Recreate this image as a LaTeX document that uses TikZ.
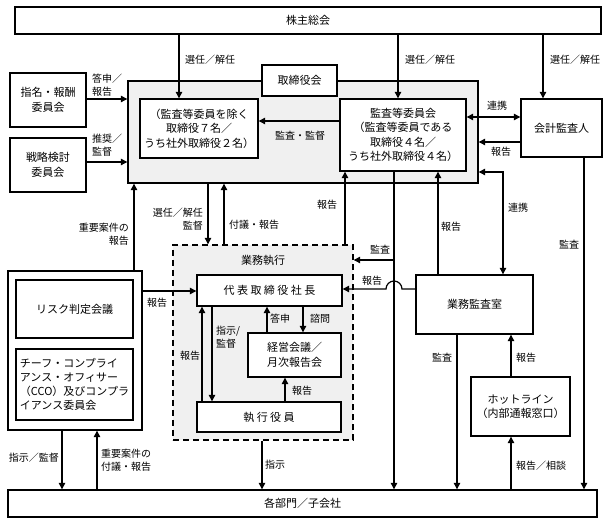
\documentclass[tikz,border=0pt]{standalone}
\usepackage{fontspec}
\setmainfont{Noto Sans CJK JP}
\usetikzlibrary{arrows.meta}
\begin{document}
\begin{tikzpicture}[
    x=1pt, y=-1pt,
    every node/.style={inner sep=0pt},
    box/.style={draw, line width=1.4pt, fill=white, align=center,
      font=\fontsize{11}{14.5}\selectfont},
    wide/.style={font=\fontsize{11}{14.5}\selectfont\addfontfeatures{LetterSpace=22}},
    grp/.style={draw, line width=1.4pt, fill=gray!12},
    lbl/.style={font=\fontsize{10}{12.5}\selectfont},
    arr/.style={line width=1.2pt, -{Triangle[length=6.5pt,width=6.5pt]}},
    dbl/.style={line width=1.2pt, {Triangle[length=6.5pt,width=6.5pt]}-{Triangle[length=6.5pt,width=6.5pt]}}
  ]
  \useasboundingbox (0,0) rectangle (611,526);
  % boxes
  \node[box, minimum width=586pt, minimum height=27pt] (gm) at (308,20.5) {株主総会};
  \node[grp, minimum width=350pt, minimum height=102pt] (board) at (303,132) {};
  \node[box, minimum width=75pt, minimum height=31pt] (boardlbl) at (299.5,80.5) {取締役会};
  \node[box, minimum width=118pt, minimum height=59pt] (dir) at (199,128.5)
    {（監査等委員を除く\\取締役７名／\\うち社外取締役２名）};
  \node[box, minimum width=126pt, minimum height=72pt] (ac) at (403,135)
    {監査等委員会\\（監査等委員である\\取締役４名／\\うち社外取締役４名）};
  \node[box, minimum width=81pt, minimum height=58pt] (auditor) at (561.5,128) {会計監査人};
  \node[box, minimum width=76pt, minimum height=54pt] (nom) at (48,100) {指名・報酬\\委員会};
  \node[box, minimum width=76pt, minimum height=54pt] (strat) at (48,165) {戦略検討\\委員会};
  \node[grp, dashed, dash pattern=on 6pt off 4pt, minimum width=180pt, minimum height=195pt] (exec) at (263,342.5) {};
  \node[font=\fontsize{11}{14.5}\selectfont] (execlbl) at (263,260) {業務執行};
  \node[box, wide, minimum width=145pt, minimum height=31pt] (ceo) at (269.5,290.5) {代表取締役社長};
  \node[box, minimum width=93pt, minimum height=44pt] (mtg) at (294.5,355) {経営会議／\\月次報告会};
  \node[box, wide, minimum width=144pt, minimum height=30pt] (officers) at (269,417) {執行役員};
  \node[box, minimum width=134pt, minimum height=159pt] (risk) at (75,350.5) {};
  \node[box, minimum width=117pt, minimum height=58pt] (riskmtg) at (74.5,309) {リスク判定会議};
  \node[box, minimum width=117pt, minimum height=71pt] (cco) at (74.5,384.5) {};
  \node[font=\fontsize{11}{14}\selectfont, align=left] (ccotxt) at (cco.center)
    {チーフ・コンプライ\\アンス・オフィサー\\（CCO）及びコンプラ\\イアンス委員会};
  \node[box, minimum width=117pt, minimum height=59pt] (ia) at (474.5,304.5) {業務監査室};
  \node[box, minimum width=99pt, minimum height=59pt] (hot) at (520.5,406.5) {ホットライン\\（内部通報窓口）};
  \node[box, minimum width=589pt, minimum height=27pt] (dept) at (302.5,503.5) {各部門／子会社};
  % connectors
  \draw[arr] (gm.south -| 179,0) -- (dir.north -| 179,0);
  \draw[arr] (gm.south -| 398,0) -- (ac.north -| 398,0);
  \draw[arr] (gm.south -| 543,0) -- (auditor.north -| 543,0);
  \draw[arr] (nom.east |- 0,99) -- (board.west |- 0,99);
  \draw[arr] (strat.east |- 0,162) -- (board.west |- 0,162);
  \draw[arr] (ac.west |- 0,121) -- (dir.east |- 0,121);
  \draw[dbl] (ac.east |- 0,117) -- (auditor.west |- 0,117);
  \draw[arr] (auditor.west |- 0,142) -- (board.east |- 0,142);
  \draw[dbl] (board.east |- 0,172) -| (ia.north -| 503,0);
  \draw[arr] (auditor.south -| 584,0) -- (dept.north -| 584,0);
  \draw[arr] (exec.north -| 345,0) -- (ac.south -| 345,0);
  \draw[arr] (ac.south -| 394,0) -- (dept.north -| 394,0);
  \coordinate (brk) at (394,260);
  \draw[arr] (brk) -- (exec.east |- brk);
  \draw[arr] (ia.north -| 438,0) -- (ac.south -| 438,0);
  \draw[arr] (ia.west |- 0,289) -- (402,289) arc[start angle=0, end angle=180, radius=8pt]
    -- (ceo.east |- 0,289);
  \draw[arr] (ia.south -| 457,0) -- (dept.north -| 457,0);
  \draw[arr] (hot.north -| 511,0) -- (ia.south -| 511,0);
  \draw[arr] (dept.north -| 511,0) -- (hot.south -| 511,0);
  \draw[arr] (board.south -| 208,0) -- (exec.north -| 208,0);
  \draw[arr] (exec.north -| 224,0) -- (board.south -| 224,0);
  \draw[arr] (risk.north -| 134,0) -- (board.south -| 134,0);
  \draw[arr] (risk.east |- 0,291) -- (ceo.west |- 0,291);
  \draw[arr] (officers.north -| 202,0) -- (ceo.south -| 202,0);
  \draw[arr] (ceo.south -| 212,0) -- (officers.north -| 212,0);
  \draw[arr] (mtg.north -| 267,0) -- (ceo.south -| 267,0);
  \draw[arr] (ceo.south -| 303,0) -- (mtg.north -| 303,0);
  \draw[arr] (officers.north -| 285,0) -- (mtg.south -| 285,0);
  \draw[arr] (exec.south -| 262,0) -- (dept.north -| 262,0);
  \draw[arr] (risk.south -| 62,0) -- (dept.north -| 62,0);
  \draw[arr] (dept.north -| 97,0) -- (risk.south -| 97,0);
  % labels
  \node[lbl] (l1) at (210,60) {選任／解任};
  \node[lbl] (l2) at (430,60) {選任／解任};
  \node[lbl] (l3) at (575,60) {選任／解任};
  \node[lbl, align=left, anchor=west] (l4) at (92,85) {答申／\\報告};
  \node[lbl, align=left, anchor=west] (l5) at (92,145) {推奨／\\監督};
  \node[lbl] (l6) at (300,136) {監査・監督};
  \node[lbl] (l7) at (497,106) {連携};
  \node[lbl] (l8) at (501,152) {報告};
  \node[lbl] (l9) at (518,208) {連携};
  \node[lbl] (l10) at (569,245) {監査};
  \node[lbl] (l11) at (327,205) {報告};
  \node[lbl] (l12) at (380,250) {監査};
  \node[lbl] (l13) at (451,227) {報告};
  \node[lbl] (l14) at (372,281) {報告};
  \node[lbl] (l15) at (442,358) {監査};
  \node[lbl] (l16) at (526,358) {報告};
  \node[lbl] (l17) at (541,466) {報告／相談};
  \node[lbl, align=right, anchor=east] (l18) at (203,219) {選任／解任\\監督};
  \node[lbl, anchor=west] (l19) at (229,225) {付議・報告};
  \node[lbl, align=right, anchor=east] (l20) at (129,234) {重要案件の\\報告};
  \node[lbl] (l21) at (157,303) {報告};
  \node[lbl] (l22) at (190,356) {報告};
  \node[lbl, align=left, anchor=west] (l23) at (216,337) {指示/\\監督};
  \node[lbl] (l24) at (280,319) {答申};
  \node[lbl] (l25) at (320,319) {諮問};
  \node[lbl] (l26) at (302,391) {報告};
  \node[lbl] (l27) at (275,465) {指示};
  \node[lbl] (l28) at (34,458) {指示／監督};
  \node[lbl, align=left, anchor=west] (l29) at (101,460) {重要案件の\\付議・報告};
\end{tikzpicture}
\end{document}
